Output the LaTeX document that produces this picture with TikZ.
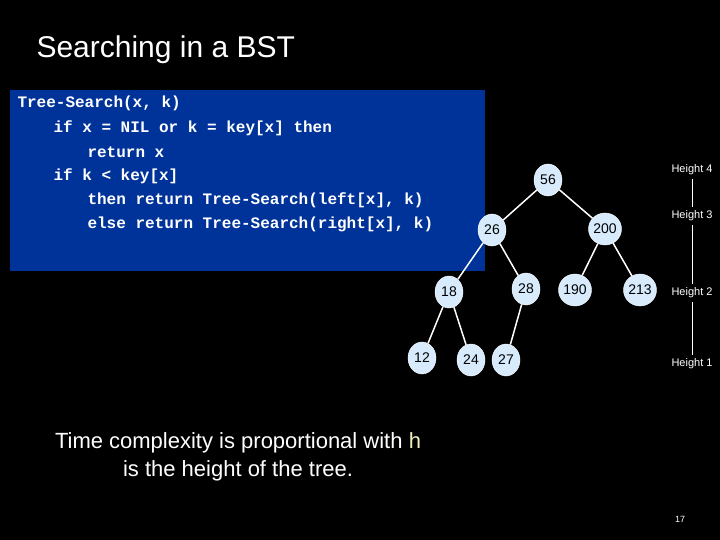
\documentclass[tikz,border=0pt]{standalone}
\usepackage{fontspec}
\setmainfont{Liberation Sans}
\newfontfamily\codefont{Liberation Mono}
\usetikzlibrary{positioning}
\definecolor{slideblue}{RGB}{0,51,153}
\definecolor{nodeblue}{RGB}{215,235,252}
\definecolor{hyellow}{RGB}{240,240,190}
\tikzset{key/.style={draw=white,fill=nodeblue,ellipse,minimum width=28pt,minimum height=32pt,inner
sep=0pt,text=black,font=\fontsize{14}{16}\selectfont},ht/.style={text=white,font=\fontsize{11}{13}\selectfont},
codeline/.style={text=white,anchor=west,font=\codefont\bfseries\fontsize{16}{18}\selectfont}}
\usetikzlibrary{shapes}
\begin{document}
\begin{tikzpicture}[x=1pt,y=-1pt]
		\fill[black] (0,0) rectangle (720,540);
		\useasboundingbox (0,0) rectangle (720,540);
		\node[text=white,anchor=west,font=\fontsize{30}{34}\selectfont] (title) at (33,50) {Searching in a BST};
		\fill[slideblue] (10,90) rectangle (485,271);
		\node[codeline] (c1) at (14,103) {Tree-Search(x, k)};
		\node[codeline] (c2) at (50,128) {if x = NIL or k = key[x] then};
		\node[codeline] (c3) at (84,152) {return x};
		\node[codeline] (c4) at (50,176) {if k < key[x]};
		\node[codeline] (c5) at (84,200) {then return Tree-Search(left[x], k)};
		\node[codeline] (c6) at (84,224) {else return Tree-Search(right[x], k)};

		% tree
		\node[key] (n56) at (548,180) {56};
		\node[key] (n26) at (492,230) {26};
		\node[key] (n200) at (605,229) {200};
		\node[key] (n18) at (449,292) {18};
		\node[key] (n28) at (526,289) {28};
		\node[key] (n190) at (575,290) {190};
		\node[key] (n213) at (640,290) {213};
		\node[key] (n12) at (422,358) {12};
		\node[key] (n24) at (471,360) {24};
		\node[key] (n27) at (506,360) {27};
		\foreach \a/\b in {56/26,56/200,26/18,26/28,200/190,200/213,18/12,18/24,28/27}
			\draw[white,line width=1.5pt] (n\a) -- (n\b);

		% heights
		\node[ht] (h4) at (692,170) {Height 4};
		\node[ht] (h3) at (692,216) {Height 3};
		\node[ht] (h2) at (692,293) {Height 2};
		\node[ht] (h1) at (692,364) {Height 1};
		\foreach \a/\b in {h4/h3,h3/h2,h2/h1}
			\draw[white,line width=1pt] (\a) -- (\b);

		\node[text=white,align=center,font=\fontsize{22}{28}\selectfont] (note) at (238,457)
			{Time complexity is proportional with \textcolor{hyellow}{h}\\is the height of the tree.};
		\node[text=white,font=\fontsize{9}{11}\selectfont] (page) at (680,519) {17};
	\end{tikzpicture}
\end{document}
